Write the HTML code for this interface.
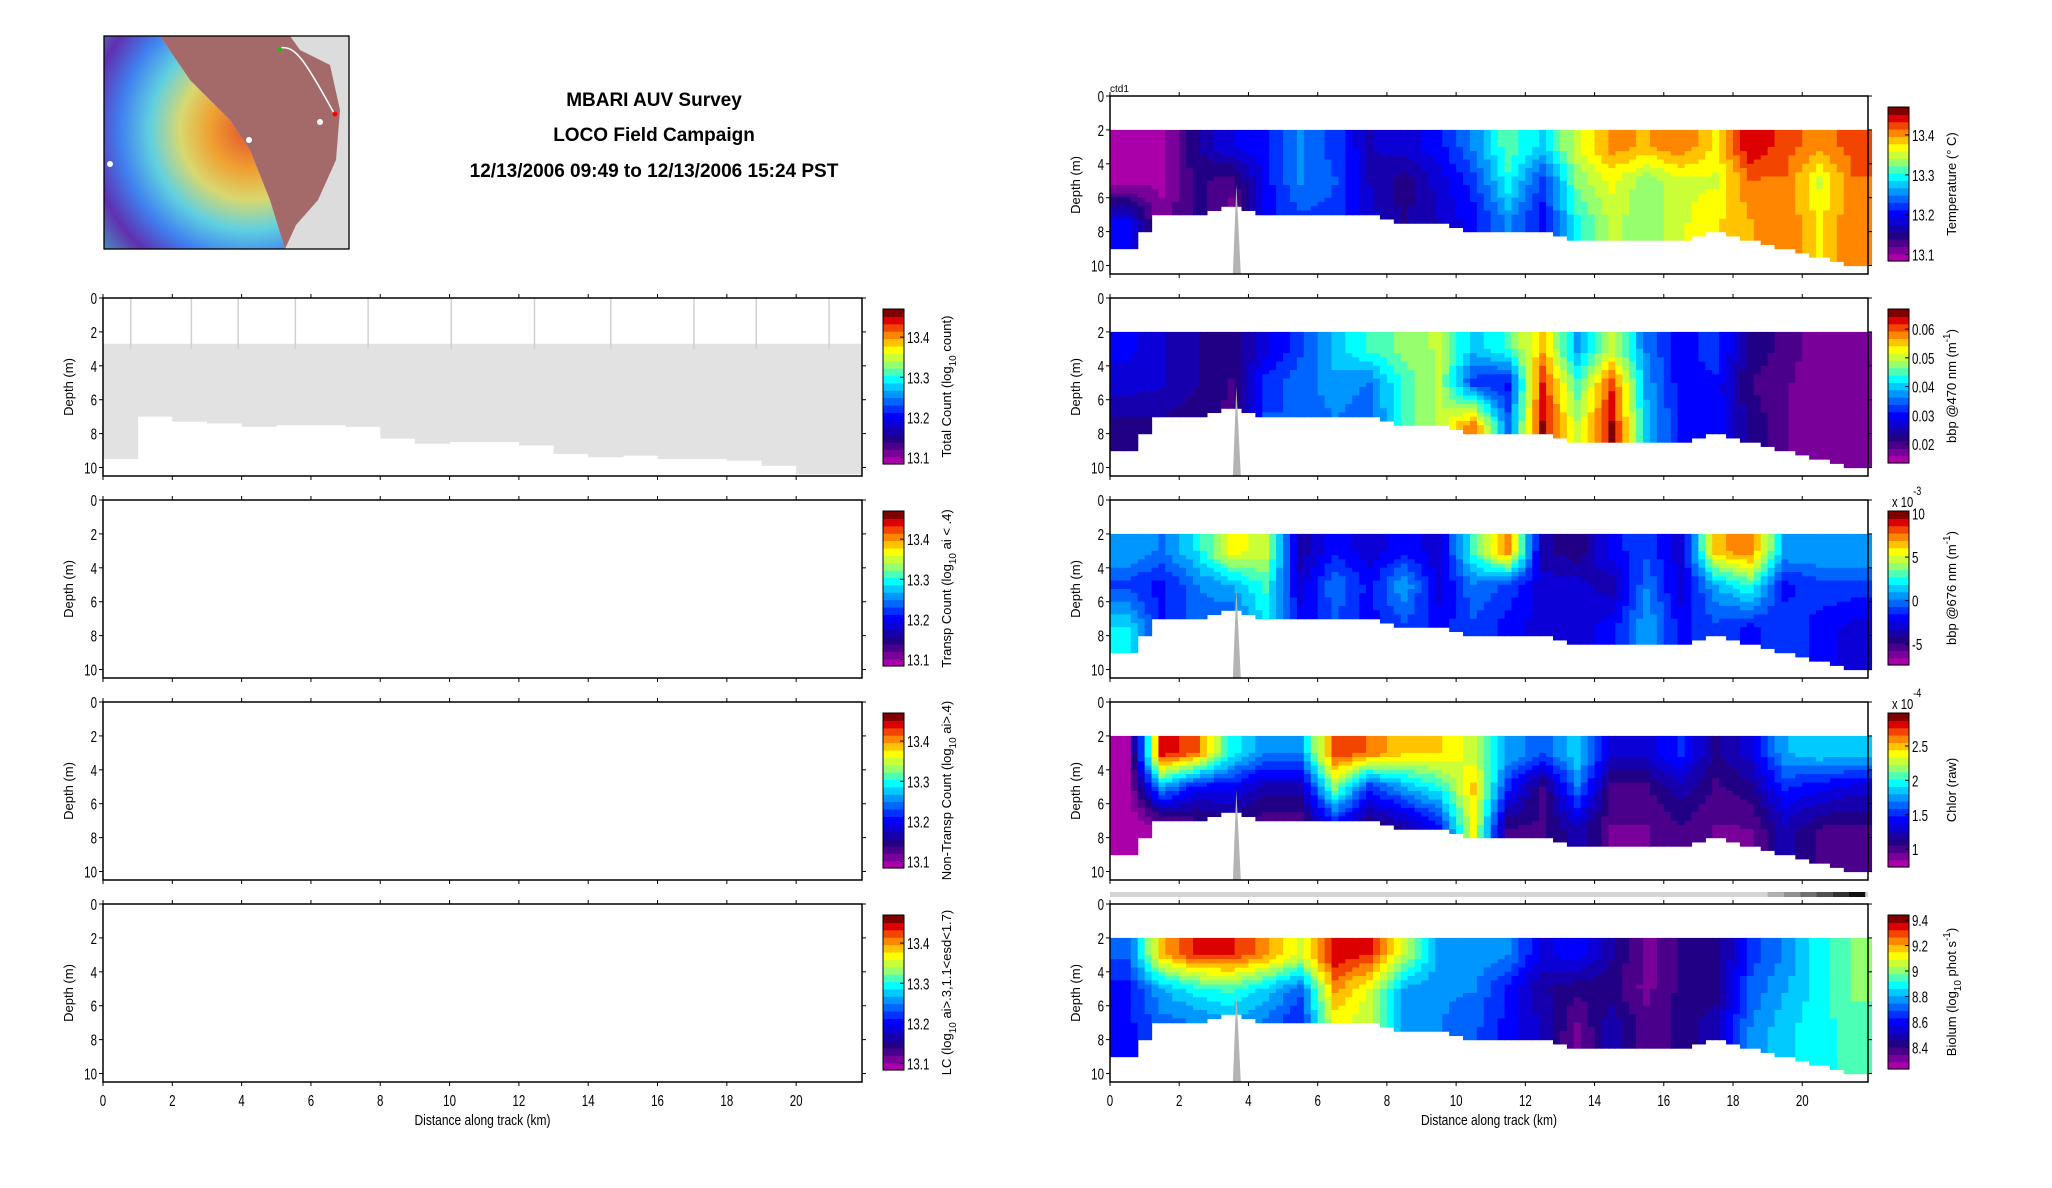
<!DOCTYPE html>
<html><head><meta charset="utf-8">
<style>
html,body{margin:0;padding:0;background:#fff;}
svg{display:block;font-family:"Liberation Sans",sans-serif;}
.tk{font-size:16px;fill:#000;}
.lab{font-family:"Liberation Sans",sans-serif;font-size:13px;fill:#000;}
.ttl{font-family:"Liberation Sans",sans-serif;font-size:19px;font-weight:bold;fill:#000;}
</style></head>
<body>
<svg id="fig" width="2052" height="1188" viewBox="0 0 2052 1188" xmlns="http://www.w3.org/2000/svg">
<g>
<defs>
<radialGradient id="mapg" cx="250" cy="130" r="200" gradientUnits="userSpaceOnUse">
<stop offset="0" stop-color="#e05030"/><stop offset="0.2" stop-color="#f0a030"/><stop offset="0.35" stop-color="#d8d870"/><stop offset="0.5" stop-color="#60d0e0"/><stop offset="0.65" stop-color="#4080f0"/><stop offset="0.8" stop-color="#6030b0"/><stop offset="1" stop-color="#40b0c0"/></radialGradient>
</defs>
<rect x="104" y="36" width="245" height="213" fill="#dcdcdc"/>
<polygon points="104,36 160,36 190,80 230,120 250,150 270,200 285,249 104,249" fill="url(#mapg)"/>
<polygon points="160,36 290,36 300,50 330,65 340,110 336,160 318,200 296,225 285,249 270,200 250,150 230,120 190,80" fill="#a46a6a"/>
<path d="M280,48 C295,45 305,60 335,115" stroke="#fff" fill="none" stroke-width="1.5"/>
<circle cx="280" cy="49" r="2" fill="#0c0"/><circle cx="335" cy="114" r="2.5" fill="#f00"/>
<circle cx="320" cy="122" r="3" fill="#fff"/><circle cx="249" cy="140" r="3" fill="#fff"/><circle cx="110" cy="164" r="3" fill="#fff"/>
<rect x="104" y="36" width="245" height="213" fill="none" stroke="#000" stroke-width="1.3"/>
</g>
<text class="ttl" x="654" y="106" text-anchor="middle">MBARI AUV Survey</text>
<text class="ttl" x="654" y="141" text-anchor="middle">LOCO Field Campaign</text>
<text class="ttl" x="654" y="177" text-anchor="middle">12/13/2006 09:49 to 12/13/2006 15:24 PST</text>
<text x="1110" y="92" style="font-size:10px">ctd1</text>
</svg>
<script>
// ---- data ----
const kmCols = [0,1,2,3,4,5,6,7,8,9,10,11,12,13,14,15,16,17,18,19,20,21];
const rowDepths = [3,5,7.5];
const bottomDepth = [9,7,7,6.5,7,7,7,7,7.5,7.5,8,8,8,8.5,8.5,8.5,8.5,8,8.5,9,9.5,10];
const tempTop = [13.08,13.08,13.15,13.19,13.2,13.25,13.22,13.17,13.18,13.2,13.25,13.32,13.28,13.36,13.41,13.4,13.42,13.38,13.46,13.43,13.41,13.43];
const tempMid = [13.08,13.09,13.14,13.12,13.2,13.25,13.23,13.17,13.14,13.18,13.22,13.3,13.22,13.33,13.37,13.33,13.36,13.36,13.42,13.42,13.36,13.42];
const tempBot = [13.2,13.1,13.14,13.1,13.2,13.22,13.22,13.18,13.15,13.17,13.2,13.25,13.2,13.3,13.35,13.33,13.36,13.38,13.4,13.42,13.38,13.42];
const bbp470Top = [.029,.026,.023,.021,.027,.033,.04,.045,.048,.05,.04,.045,.057,.038,.05,.036,.029,.033,.022,.019,.016,.015];
const bbp470Mid = [.027,.026,.023,.02,.032,.035,.038,.036,.045,.05,.032,.03,.063,.045,.062,.038,.029,.03,.02,.018,.015,.015];
const bbp470Bot = [.022,.022,.021,.019,.034,.033,.036,.034,.045,.05,.06,.035,.066,.05,.066,.04,.03,.03,.022,.018,.015,.015];
const bbp676Top = [1,0,2,6,5,-4,-2,-3,-2,-3,3,8,-4,-5,-2,-1,-3,7,8,1,1,1];
const bbp676Mid = [-1,-2,0,1,3,-3,0,-2,1,-3,0,-1,-3,-3,-4,0,-3,1,3,-2,-1,-1];
const bbp676Bot = [2,-2,0,-1,2,-2,-1,-2,-1,-2,-1,-2,-3,-3,-2,1,-2,-1,-2,-1,-2,-3];
const chlTop = [.7,2.9,2.7,2,1.7,1.7,2.8,2.7,2.5,2.5,2.3,1.8,1.6,1.9,1.3,1.3,1.5,1.1,1.3,1.8,1.9,1.9];
const chlMid = [.7,1.8,1.4,1.4,1.2,1.2,2.2,1.5,1.8,2,2.5,1.5,1,1.7,1,1,1.2,1,1.1,1.5,1.4,1.3];
const chlBot = [.7,.7,.9,1,.9,.9,1.3,1,1.1,1.4,2.4,1,1,1.2,.9,.9,1,.9,.9,1.2,1,1];
const bioTop = [8.7,9.2,9.35,9.35,9.25,9.1,9.4,9.35,9.05,8.8,8.8,8.75,8.55,8.6,8.45,8.3,8.4,8.4,8.65,8.75,8.9,9];
const bioMid = [8.6,8.8,8.9,8.95,8.85,8.7,9.25,9.1,8.8,8.75,8.75,8.6,8.45,8.4,8.4,8.3,8.4,8.4,8.7,8.8,8.9,9];
const bioBot = [8.6,8.7,8.7,8.75,8.7,8.6,9.1,9.05,8.8,8.75,8.7,8.6,8.5,8.3,8.5,8.35,8.4,8.5,8.75,8.85,8.9,8.95];
const spikeKm = [0.8,2.55,3.9,5.55,7.65,10.05,12.45,14.65,17.05,18.85,20.95];
const leftBottom = [9.5,7,7.3,7.4,7.6,7.5,7.5,7.6,8.3,8.6,8.5,8.5,8.7,9.2,9.4,9.3,9.5,9.5,9.6,9.9,10.4,10.4];
const xTicks = [0,2,4,6,8,10,12,14,16,18,20];
const yTicks = [0,2,4,6,8,10];
const cbTicksTemp = [13.1,13.2,13.3,13.4];
const cbTicks470 = [0.02,0.03,0.04,0.05,0.06];
const cbTicks676 = [-5,0,5,10];
const cbTicksChl = [1,1.5,2,2.5];
const cbTicksBio = [8.4,8.6,8.8,9,9.2,9.4];

const NS='http://www.w3.org/2000/svg';
const svg=document.getElementById('fig');
function mk(tag,attrs,parent){const e=document.createElementNS(NS,tag);for(const k in attrs)e.setAttribute(k,attrs[k]);(parent||svg).appendChild(e);return e;}
function ntext(x,y,str,anchor,parent){const t=mk('text',{x:0,y:0,'text-anchor':anchor,class:'tk',transform:`translate(${x},${y}) scale(0.72,1)`},parent);t.textContent=str;return t;}
const stops=[[0,[170,0,170]],[0.14,[35,0,125]],[0.3,[0,0,255]],[0.45,[0,150,255]],[0.55,[0,255,255]],[0.65,[150,255,110]],[0.75,[255,255,0]],[0.87,[255,110,0]],[0.95,[220,0,0]],[1,[128,0,0]]];
function cmap(t){t=Math.max(0,Math.min(1,t));t=Math.round(t*20)/20;for(let i=1;i<stops.length;i++){if(t<=stops[i][0]){const a=stops[i-1],b=stops[i];const f=(t-a[0])/(b[0]-a[0]);const c=a[1].map((v,j)=>Math.round(v+(b[1][j]-v)*f));return `rgb(${c[0]},${c[1]},${c[2]})`;}}return 'rgb(128,0,0)';}
const XMAX=21.9, YMAX=10.5;
function axes(px,py,w,h,name){
  const g=mk('g',{});
  
  
  const sx=v=>px+v/XMAX*w, sy=v=>py+v/YMAX*h;
  return {g,sx,sy,px,py,w,h};
}
function frame(A,showX){
  const {g,sx,sy,px,py,w,h}=A;
  mk('rect',{x:px,y:py,width:w,height:h,fill:'none',stroke:'#000','stroke-width':1.5},g);
  xTicks.forEach(t=>{mk('line',{x1:sx(t),x2:sx(t),y1:py,y2:py-4,stroke:'#000'},g);mk('line',{x1:sx(t),x2:sx(t),y1:py+h,y2:py+h+4,stroke:'#000'},g);
    if(showX){const tx=ntext(sx(t),py+h+24,String(t),'middle',g);
      
      }});
  yTicks.forEach(t=>{mk('line',{x1:px,x2:px-4,y1:sy(t),y2:sy(t),stroke:'#000'},g);mk('line',{x1:px+w,x2:px+w+4,y1:sy(t),y2:sy(t),stroke:'#000'},g);
    const tx=ntext(px-6,sy(t)+6,String(t),'end',g);
    
    });
  const yl=mk('text',{x:0,y:0,class:'lab','text-anchor':'middle',transform:`translate(${px-30},${py+h/2}) rotate(-90)`},g);yl.textContent='Depth (m)';
  
  
  if(showX){const xl=mk('text',{x:0,y:0,class:'lab','text-anchor':'middle',style:'font-size:15px',transform:`translate(${px+w/2},${py+h+43}) scale(0.8,1)`},g);xl.textContent='Distance along track (km)';
    
    }
}
function colorbar(x,y,h,lo,hi,ticks,label,expo){
  const g=mk('g',{});
  
  
  const n=21;
  for(let i=0;i<n;i++){mk('rect',{x:x,y:y+h-(i+1)*h/n,width:21,height:h/n+0.6,fill:cmap(i/(n-1))},g);}
  mk('rect',{x:x,y:y,width:21,height:h,fill:'none',stroke:'#000'},g);
  ticks.forEach(t=>{const yy=y+h-(t-lo)/(hi-lo)*h;mk('line',{x1:x+21,x2:x+17,y1:yy,y2:yy,stroke:'#000'},g);
    const tx=ntext(x+24,yy+6,String(t).replace(/^0\./,'0.'),'start',g);
    
    });
  const lb=mk('text',{x:0,y:0,class:'lab','text-anchor':'middle',transform:`translate(${x+68},${y+h/2}) rotate(-90)`},g);lb.innerHTML=label;
  
  
  if(expo){const e=mk('text',{x:0,y:0,class:'tk',style:'font-size:15px',transform:`translate(${x+4},${y-4}) scale(0.75,1)`},g);e.innerHTML='x 10<tspan dy="-12" font-size="12">'+expo+'</tspan>';
    
    }
}
function lerp(arr,x){const i=Math.max(0,Math.min(arr.length-1,x));const a=Math.floor(i),b=Math.min(arr.length-1,a+1),f=i-a;return arr[a]*(1-f)+arr[b]*f;}
function sect(A,top,mid,bot,lo,hi){
  const {g,sx,sy}=A;
  const dx=0.2,dz=0.25;
  for(let x=0;x<XMAX-1e-6;x+=dx){
    const kx=x+dx/2-0.5;
    const bd=lerp(bottomDepth,Math.round(kx*2)/2);
    const vt=lerp(top,kx),vm=lerp(mid,kx),vb=lerp(bot,kx);
    for(let z=2;z<bd-1e-6;z+=dz){
      const zc=z+dz/2;let v;
      if(zc<=rowDepths[0])v=vt;else if(zc<=rowDepths[1])v=vt+(vm-vt)*(zc-rowDepths[0])/(rowDepths[1]-rowDepths[0]);
      else if(zc<=rowDepths[2])v=vm+(vb-vm)*(zc-rowDepths[1])/(rowDepths[2]-rowDepths[1]);else v=vb;
      const r=mk('rect',{x:sx(x),y:sy(z),width:sx(x+dx)-sx(x)+0.6,height:sy(z+dz)-sy(z)+0.6,fill:cmap((v-lo)/(hi-lo))},g);
      
      
    }
  }
  const sp=mk('polygon',{points:`${sx(3.55)},${sy(YMAX)} ${sx(3.65)},${sy(5.2)} ${sx(3.78)},${sy(YMAX)}`,fill:'#b4b4b4'},g);
  
  
}
const RX=1110,RW=758,LX=103,LW=759,PH=178;
const tops=[96,298,500,702,904];
const rightSets=[[tempTop,tempMid,tempBot,13.084,13.47,cbTicksTemp,'Temperature (° C)',null,'temperature-section'],
 [bbp470Top,bbp470Mid,bbp470Bot,0.0134,0.067,cbTicks470,'bbp @470 nm (m<tspan dy="-6" font-size="10">-1</tspan><tspan dy="6">)</tspan>',null,'bbp470-section'],
 [bbp676Top,bbp676Mid,bbp676Bot,-7.4,10.3,cbTicks676,'bbp @676 nm (m<tspan dy="-6" font-size="10">-1</tspan><tspan dy="6">)</tspan>','-3','bbp676-section'],
 [chlTop,chlMid,chlBot,0.74,2.98,cbTicksChl,'Chlor (raw)','-4','chlor-section'],
 [bioTop,bioMid,bioBot,8.23,9.44,cbTicksBio,'Biolum (log<tspan dy="5" font-size="10">10</tspan><tspan dy="-5"> phot s</tspan><tspan dy="-6" font-size="10">-1</tspan><tspan dy="6">)</tspan>',null,'biolum-section']];
rightSets.forEach((s,i)=>{
  const A=axes(RX,tops[i],RW,PH,s[8]);
  sect(A,s[0],s[1],s[2],s[3],s[4]);
  frame(A,i===4);
  colorbar(1888,tops[i]+11,154,s[3],s[4],s[5],s[6],s[7]);
});
(function(){const g=mk('g',{});
 const sx=v=>RX+v/XMAX*RW;mk('rect',{x:RX,y:892,width:RW,height:5,fill:'#d4d4d4'},g);
 const gs=['#b0b0b0','#909090','#707070','#505050','#303030','#101010'];
 gs.forEach((c,i)=>mk('rect',{x:sx(19+i*0.47),y:892,width:sx(19.47)-sx(19),height:5,fill:c},g));})();
const leftLabels=['Total Count (log<tspan dy="5" font-size="10">10</tspan><tspan dy="-5"> count)</tspan>','Transp Count (log<tspan dy="5" font-size="10">10</tspan><tspan dy="-5"> ai &lt; .4)</tspan>','Non-Transp Count (log<tspan dy="5" font-size="10">10</tspan><tspan dy="-5"> ai&gt;.4)</tspan>','LC (log<tspan dy="5" font-size="10">10</tspan><tspan dy="-5"> ai&gt;.3,1.1&lt;esd&lt;1.7)</tspan>'];
const lnames=['total-count-panel','transp-count-panel','nontransp-count-panel','lc-panel'];
for(let i=0;i<4;i++){
  const A=axes(LX,tops[i+1],LW,PH,lnames[i]);
  if(i===0){
    const {g,sx,sy}=A;
    for(let k=0;k<leftBottom.length;k++){
      const x0=k, x1=Math.min(XMAX,k+1);
      const r=mk('rect',{x:sx(x0),y:sy(2.7),width:sx(x1)-sx(x0)+0.5,height:sy(leftBottom[k])-sy(2.7),fill:'#e2e2e2'},g);
      
      
    }
    spikeKm.forEach(s=>{const l=mk('line',{x1:sx(s),x2:sx(s),y1:sy(0),y2:sy(3),stroke:'#d0d0d0','stroke-width':1.5},g);
      
      });
  }
  frame(A,i===3);
  colorbar(883,tops[i+1]+11,155,13.084,13.47,cbTicksTemp,leftLabels[i],null);
}
</script>
</body></html>
